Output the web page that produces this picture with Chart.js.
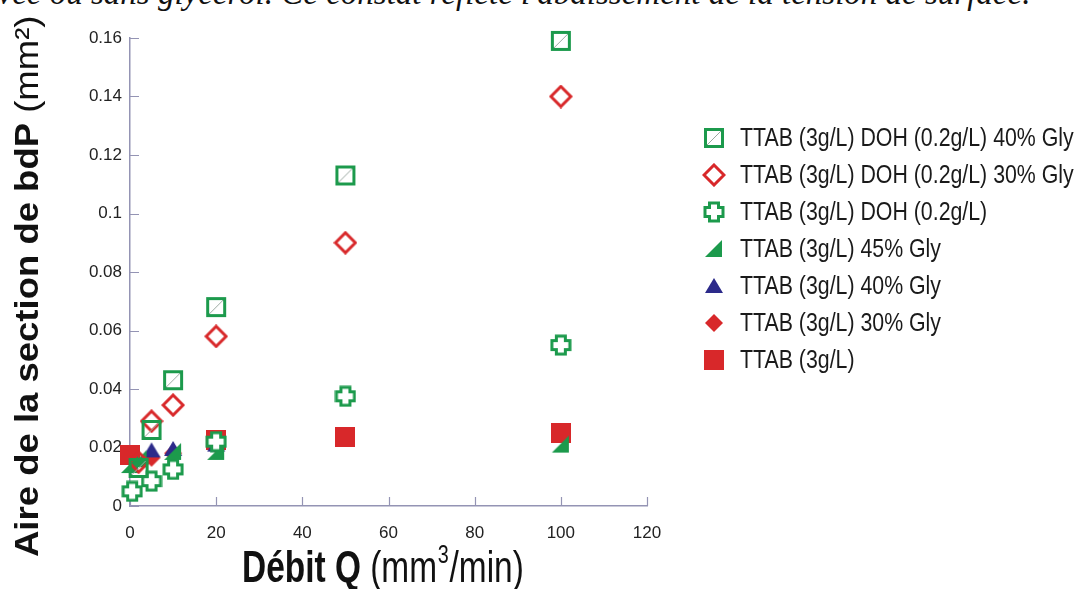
<!DOCTYPE html>
<html>
<head>
<meta charset="utf-8">
<script src="https://cdn.jsdelivr.net/npm/chart.js@4/dist/chart.umd.min.js"></script>
<style>
  body { margin: 0; background: #fff; }
  #wrap { position: relative; width: 1088px; height: 589px; overflow: hidden; }
  #caption { position: absolute; left: -19px; top: -25px; font: italic 33px 'Liberation Serif', serif; color: #111; white-space: nowrap; }
  #canvas { position: absolute; left: 0; top: 0; }
</style>
</head>
<body>
<div id="wrap">
  <div id="caption">avec ou sans glycérol. Ce constat reflète l'abaissement de la tension de surface.</div>
  <canvas id="canvas" width="1088" height="589"></canvas>
</div>
<script>
// Data
const seriesNames = [
  'TTAB (3g/L) DOH (0.2g/L) 40% Gly',
  'TTAB (3g/L) DOH (0.2g/L) 30% Gly',
  'TTAB (3g/L) DOH (0.2g/L)',
  'TTAB (3g/L) 45% Gly',
  'TTAB (3g/L) 40% Gly',
  'TTAB (3g/L) 30% Gly',
  'TTAB (3g/L)'
];
const xDohGly40 = [2, 5, 10, 20, 50, 100];
const yDohGly40 = [0.013, 0.026, 0.043, 0.068, 0.113, 0.159];
const xDohGly30 = [2, 5, 10, 20, 50, 100];
const yDohGly30 = [0.015, 0.029, 0.0345, 0.058, 0.09, 0.14];
const xDoh = [0.5, 5, 10, 20, 50, 100];
const yDoh = [0.005, 0.0085, 0.0125, 0.022, 0.0375, 0.055];
const xGly45 = [0, 2, 10, 20, 100];
const yGly45 = [0.014, 0.016, 0.0185, 0.0185, 0.021];
const xGly40 = [5, 10, 20];
const yGly40 = [0.019, 0.0195, 0.021];
const xGly30 = [5, 10, 20];
const yGly30 = [0.0165, 0.018, 0.021];
const xTtab = [0, 20, 50, 100];
const yTtab = [0.0175, 0.0225, 0.0235, 0.025];

const xTickLabels = ['0', '20', '40', '60', '80', '100', '120'];
const yTickLabels = ['0', '0.02', '0.04', '0.06', '0.08', '0.1', '0.12', '0.14', '0.16'];

const green = '#1c9a4c';
const red = '#d8282a';
const blue = '#2c2a8a';
const axisColor = '#9494b4';

// marker pictures
function makeMarker(size, draw) {
  const c = document.createElement('canvas');
  c.width = size;
  c.height = size;
  draw(c.getContext('2d'), size);
  return c;
}

const squareDiag = makeMarker(22, (g, s) => {
  g.strokeStyle = '#9aa8a0';
  g.lineWidth = 1;
  g.beginPath();
  g.moveTo(4, s - 4);
  g.lineTo(s - 4, 4);
  g.stroke();
  g.strokeStyle = green;
  g.lineWidth = 3;
  g.strokeRect(2.5, 2.5, s - 5, s - 5);
});

const openDiamond = makeMarker(24, (g, s) => {
  const m = s / 2;
  g.strokeStyle = red;
  g.lineWidth = 3;
  g.beginPath();
  g.moveTo(m, 2);
  g.lineTo(s - 2, m);
  g.lineTo(m, s - 2);
  g.lineTo(2, m);
  g.closePath();
  g.stroke();
});

const openCross = makeMarker(22, (g, s) => {
  const a = 4.5, lo = 2, hi = s - 2, m = s / 2;
  g.beginPath();
  g.moveTo(m - a, lo); g.lineTo(m + a, lo); g.lineTo(m + a, m - a);
  g.lineTo(hi, m - a); g.lineTo(hi, m + a); g.lineTo(m + a, m + a);
  g.lineTo(m + a, hi); g.lineTo(m - a, hi); g.lineTo(m - a, m + a);
  g.lineTo(lo, m + a); g.lineTo(lo, m - a); g.lineTo(m - a, m - a);
  g.closePath();
  g.fillStyle = '#fff';
  g.fill();
  g.strokeStyle = green;
  g.lineWidth = 3;
  g.stroke();
});

const rightTri = makeMarker(20, (g, s) => {
  g.fillStyle = green;
  g.beginPath();
  g.moveTo(1, s - 2);
  g.lineTo(s - 2, s - 2);
  g.lineTo(s - 2, 1);
  g.closePath();
  g.fill();
});

const blueTri = makeMarker(20, (g, s) => {
  g.fillStyle = blue;
  g.beginPath();
  g.moveTo(s / 2, 2);
  g.lineTo(s - 1, s - 3);
  g.lineTo(1, s - 3);
  g.closePath();
  g.fill();
});

const redDiamond = makeMarker(20, (g, s) => {
  const m = s / 2;
  g.fillStyle = red;
  g.beginPath();
  g.moveTo(m, 1);
  g.lineTo(s - 1, m);
  g.lineTo(m, s - 1);
  g.lineTo(1, m);
  g.closePath();
  g.fill();
});

const redSquare = makeMarker(20, (g, s) => {
  g.fillStyle = red;
  g.fillRect(0, 0, s, s);
});

function pts(xs, ys) {
  return xs.map((x, i) => ({ x: x, y: ys[i] }));
}

const markers = [squareDiag, openDiamond, openCross, rightTri, blueTri, redDiamond, redSquare];
const seriesData = [
  pts(xDohGly40, yDohGly40),
  pts(xDohGly30, yDohGly30),
  pts(xDoh, yDoh),
  pts(xGly45, yGly45),
  pts(xGly40, yGly40),
  pts(xGly30, yGly30),
  pts(xTtab, yTtab)
];

const datasets = seriesNames.map((name, i) => ({
  label: name,
  data: seriesData[i],
  pointStyle: markers[i],
  pointRadius: 10,
  showLine: false,
  clip: false
}));

// small ticks drawn inside the plot, like the original
const innerTicks = {
  id: 'innerTicks',
  beforeDatasetsDraw(chart) {
    const ctx = chart.ctx;
    const xs = chart.scales.x, ys = chart.scales.y;
    const area = chart.chartArea;
    ctx.save();
    ctx.strokeStyle = axisColor;
    ctx.lineWidth = 1.2;
    ctx.beginPath();
    xs.ticks.forEach(t => {
      const px = Math.round(xs.getPixelForValue(t.value)) + 0.5;
      ctx.moveTo(px, area.bottom);
      ctx.lineTo(px, area.bottom - 9);
    });
    ys.ticks.forEach(t => {
      const py = Math.round(ys.getPixelForValue(t.value)) + 0.5;
      ctx.moveTo(area.left, py);
      ctx.lineTo(area.left + 9, py);
    });
    ctx.stroke();
    ctx.restore();
  }
};

// axis titles with mixed bold / normal text and the legend
const titlesAndLegend = {
  id: 'titlesAndLegend',
  afterDraw(chart) {
    const ctx = chart.ctx;
    ctx.save();
    ctx.fillStyle = '#111';
    ctx.textBaseline = 'alphabetic';

    // y title
    ctx.save();
    ctx.translate(38, 557);
    ctx.rotate(-Math.PI / 2);
    ctx.scale(1, 0.92);
    ctx.font = "bold 36.5px 'Liberation Sans', Arial, sans-serif";
    const part1 = 'Aire de la section de bdP';
    ctx.fillText(part1, 0, 0);
    const w1 = ctx.measureText(part1).width;
    ctx.font = "36.5px 'Liberation Sans', Arial, sans-serif";
    ctx.fillText(' (mm²)', w1, 0);
    ctx.restore();

    // x title
    ctx.save();
    ctx.translate(242, 582);
    ctx.scale(0.76, 1);
    let x = 0;
    ctx.font = "bold 44px 'Liberation Sans', Arial, sans-serif";
    ctx.fillText('Débit Q', x, 0);
    x += ctx.measureText('Débit Q').width;
    ctx.font = "44px 'Liberation Sans', Arial, sans-serif";
    ctx.fillText(' (mm', x, 0);
    x += ctx.measureText(' (mm').width;
    ctx.font = "26px 'Liberation Sans', Arial, sans-serif";
    ctx.fillText('3', x + 1, -19);
    x += ctx.measureText('3').width + 2;
    ctx.font = "44px 'Liberation Sans', Arial, sans-serif";
    ctx.fillText('/min)', x, 0);
    ctx.restore();

    // legend
    chart.data.datasets.forEach((ds, i) => {
      const cy = 138 + i * 37;
      const img = ds.pointStyle;
      ctx.drawImage(img, 714 - img.width / 2, cy - img.height / 2);
      ctx.save();
      ctx.translate(740, cy);
      ctx.scale(0.82, 1);
      ctx.font = "26px 'Liberation Sans', Arial, sans-serif";
      ctx.textBaseline = 'middle';
      ctx.fillStyle = '#1a1a1a';
      ctx.fillText(ds.label, 0, 1);
      ctx.restore();
    });
    ctx.restore();
  }
};

const ctx = document.getElementById('canvas').getContext('2d');

new Chart(ctx, {
  type: 'scatter',
  data: { datasets: datasets },
  plugins: [innerTicks, titlesAndLegend],
  options: {
    responsive: false,
    animation: false,
    layout: { padding: { left: 0, right: 441, top: 38, bottom: 0 } },
    plugins: {
      legend: { display: false },
      tooltip: { enabled: false }
    },
    scales: {
      x: {
        type: 'linear',
        min: 0,
        max: 120,
        ticks: {
          stepSize: 20,
          padding: 17,
          color: '#222',
          font: { family: "'Liberation Sans', Arial, sans-serif", size: 17 },
          callback: (v, i) => xTickLabels[i]
        },
        grid: { drawOnChartArea: false, drawTicks: false },
        border: { color: axisColor, width: 1.5 },
        afterFit(s) { s.height = 83; }
      },
      y: {
        type: 'linear',
        min: 0,
        max: 0.16,
        ticks: {
          stepSize: 0.02,
          padding: 8,
          color: '#222',
          font: { family: "'Liberation Sans', Arial, sans-serif", size: 17 },
          callback: (v, i) => yTickLabels[i]
        },
        grid: { drawOnChartArea: false, drawTicks: false },
        border: { color: axisColor, width: 1.5 },
        afterFit(s) { s.width = 130; }
      }
    }
  }
});
</script>
</body>
</html>
